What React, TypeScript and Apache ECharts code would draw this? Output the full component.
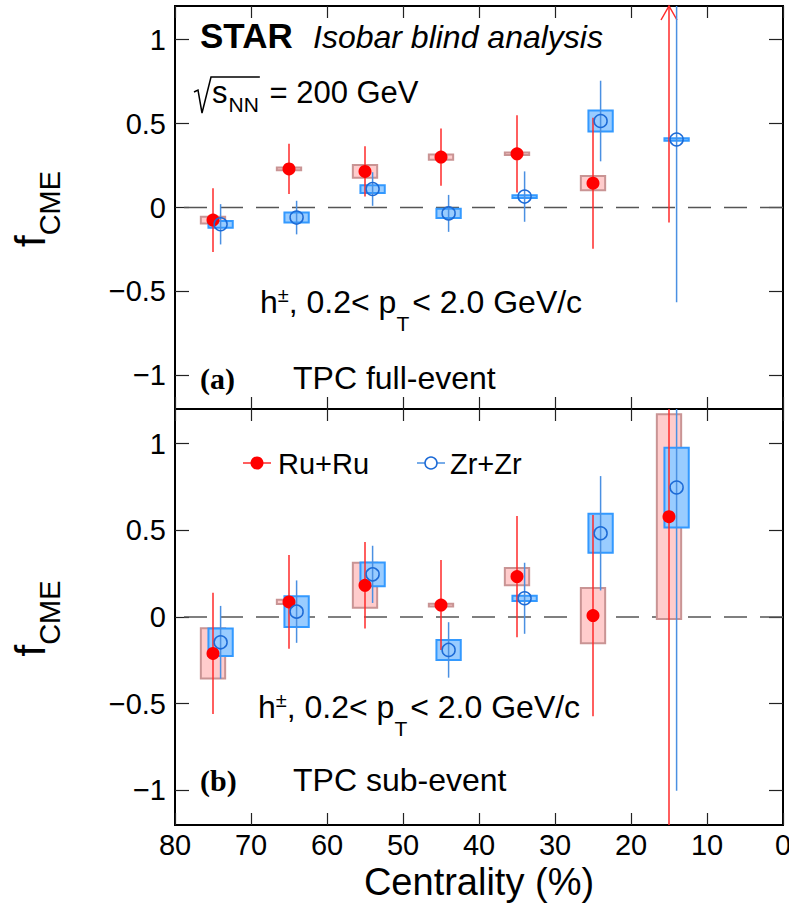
import React, { useEffect, useRef } from "react";
import * as echarts from "echarts";

const SANS = "'Liberation Sans', Arial, Helvetica, sans-serif";
const SERIF = "'Liberation Serif', 'Times New Roman', serif";

// Centrality bin positions (%), Zr points are offset by 1 % for visibility
const ruCent = [75, 65, 55, 45, 35, 25, 15];
const zrCent = [74, 64, 54, 44, 34, 24, 14];

// Panel (a): TPC full-event
const ruA = [-0.075, 0.23, 0.215, 0.3, 0.32, 0.145, 1.6];
const ruAErr = [0.19, 0.15, 0.15, 0.17, 0.23, 0.39, 1.69];
const ruASys = [0.02, 0.008, 0.038, 0.015, 0.008, 0.043, 0.05];
const zrA = [-0.1, -0.06, 0.11, -0.035, 0.065, 0.515, 0.405];
const zrAErr = [0.12, 0.1, 0.1, 0.11, 0.15, 0.24, 0.97];
const zrASys = [0.02, 0.03, 0.023, 0.028, 0.008, 0.063, 0.008];

// Panel (b): TPC sub-event
const ruB = [-0.21, 0.087, 0.183, 0.069, 0.233, 0.008, 0.579];
const ruBErr = [0.35, 0.27, 0.25, 0.26, 0.35, 0.58, 1.9];
const ruBSys = [0.145, 0.012, 0.13, 0.008, 0.05, 0.16, 0.59];
const zrB = [-0.146, 0.031, 0.246, -0.19, 0.108, 0.483, 0.747];
const zrBErr = [0.21, 0.18, 0.165, 0.16, 0.205, 0.33, 1.75];
const zrBSys = [0.079, 0.088, 0.069, 0.058, 0.015, 0.113, 0.23];

const yTickValues = [-1, -0.5, 0, 0.5, 1];
const X_MIN = 0;
const X_MAX = 80;
const Y_MIN = -1.2;
const Y_MAX = 1.2;
const BOX_HALF = 1.6;

const RU_COLOR = "#ff0000";
const RU_ERR = "#ff2a2a";
const RU_BOX_FILL = "#ffcccc";
const RU_BOX_STROKE = "#c99494";
const ZR_COLOR = "#1c6ad6";
const ZR_ERR = "#4a90e2";
const ZR_BOX_FILL = "#99ccff";
const ZR_BOX_STROKE = "#3399ff";

const measureCtx: any =
  typeof document !== "undefined" ? document.createElement("canvas").getContext("2d") : null;
function fontStr(fs: number, opts: any = {}) {
  return `${opts.style || "normal"} ${opts.weight || "normal"} ${fs}px ${opts.family || SANS}`;
}
function tw(text: string, fs: number, opts: any = {}) {
  if (!measureCtx) return text.length * fs * 0.55;
  measureCtx.font = fontStr(fs, opts);
  return measureCtx.measureText(text).width;
}
function txt(text: string, x: number, baseline: number, fs: number, opts: any = {}) {
  const align = opts.align || "left";
  return {
    type: "text",
    x,
    y: baseline - 0.35 * fs,
    z: 100,
    silent: true,
    style: {
      text,
      x: 0,
      y: 0,
      font: fontStr(fs, opts),
      fill: opts.color || "#000",
      textAlign: align,
      textVerticalAlign: "middle",
      align,
      verticalAlign: "middle",
    },
  };
}
function rotTxt(text: string, baselineX: number, startY: number, fs: number) {
  return {
    type: "text",
    x: baselineX - 0.35 * fs,
    y: startY,
    rotation: Math.PI / 2,
    z: 100,
    silent: true,
    style: {
      text,
      x: 0,
      y: 0,
      font: fontStr(fs),
      fill: "#000",
      textAlign: "left",
      textVerticalAlign: "middle",
      align: "left",
      verticalAlign: "middle",
    },
  };
}

function boxRender(fill: string, stroke: string) {
  return (params: any, api: any) => {
    const x = api.value(0);
    const y = api.value(1);
    const s = api.value(2);
    const cs = params.coordSys;
    const a = api.coord([x - BOX_HALF, y + s]);
    const b = api.coord([x + BOX_HALF, y - s]);
    const x0 = Math.min(a[0], b[0]);
    const x1 = Math.max(a[0], b[0]);
    let y0 = Math.min(a[1], b[1]);
    let y1 = Math.max(a[1], b[1]);
    const top = cs.y;
    const bot = cs.y + cs.height;
    if (y1 < top || y0 > bot) return null;
    y0 = Math.max(y0, top);
    y1 = Math.min(y1, bot);
    if (y1 - y0 < 2) {
      const m = (y0 + y1) / 2;
      y0 = m - 1;
      y1 = m + 1;
    }
    return {
      type: "rect",
      shape: { x: x0, y: y0, width: x1 - x0, height: y1 - y0 },
      style: { fill, stroke, lineWidth: 2 },
    };
  };
}

function errRender(stroke: string) {
  return (params: any, api: any) => {
    const x = api.value(0);
    const y = api.value(1);
    const e = api.value(2);
    const cs = params.coordSys;
    const top = cs.y;
    const bot = cs.y + cs.height;
    const p = api.coord([x, y]);
    const lo = api.coord([x, y - e]);
    const hi = api.coord([x, y + e]);
    const yTop = Math.max(Math.min(hi[1], lo[1]), top);
    const yBot = Math.min(Math.max(hi[1], lo[1]), bot);
    const children: any[] = [];
    if (yBot > yTop) {
      children.push({
        type: "line",
        shape: { x1: p[0], y1: yTop, x2: p[0], y2: yBot },
        style: { stroke, lineWidth: 1.5 },
      });
    }
    if (p[1] < top) {
      children.push({
        type: "polyline",
        shape: { points: [[p[0] - 8, top + 14], [p[0], top], [p[0] + 8, top + 14]] },
        style: { stroke, fill: "none", lineWidth: 1.5 },
      });
    }
    return { type: "group", children };
  };
}

function mkX(gridIndex: number, position: string, labels: boolean) {
  return {
    type: "value",
    gridIndex,
    position,
    min: X_MIN,
    max: X_MAX,
    interval: 10,
    inverse: true,
    axisLine: { show: false, onZero: false },
    splitLine: { show: false },
    axisTick: { show: true, inside: true, length: 12, lineStyle: { color: "#222", width: 1.2 } },
    axisLabel: {
      show: labels,
      margin: 5,
      fontSize: 29,
      color: "#000",
      fontFamily: SANS,
      hideOverlap: false,
    },
  };
}

function fmtY(v: number) {
  if (!yTickValues.some((t) => Math.abs(t - v) < 1e-6)) return "";
  if (Math.abs(v) < 1e-9) return "0";
  return (v < 0 ? "\u2212" : "") + String(Math.abs(v));
}

function mkY(gridIndex: number, position: string, labels: boolean) {
  return {
    type: "value",
    gridIndex,
    position,
    min: Y_MIN,
    max: Y_MAX,
    splitNumber: 5,
    axisLine: { show: false, onZero: false },
    splitLine: { show: false },
    axisTick: {
      show: true,
      inside: true,
      length: 14,
      customValues: yTickValues,
      lineStyle: { color: "#222", width: 1.2 },
    },
    axisLabel: {
      show: labels,
      customValues: yTickValues,
      margin: 9,
      fontSize: 29,
      color: "#000",
      fontFamily: SANS,
      formatter: fmtY,
    },
  };
}

function panelSeries(
  p: number,
  ru: number[],
  ruErr: number[],
  ruSys: number[],
  zr: number[],
  zrErr: number[],
  zrSys: number[]
) {
  const common = { xAxisIndex: p * 2, yAxisIndex: p * 2 };
  return [
    {
      type: "line",
      ...common,
      name: "zero",
      data: [
        [X_MIN, 0],
        [X_MAX, 0],
      ],
      symbol: "none",
      silent: true,
      z: 1,
      lineStyle: { color: "#555", width: 1.5, type: [23, 13] },
    },
    {
      type: "custom",
      ...common,
      name: "Ru+Ru syst",
      z: 2,
      encode: { x: 0, y: 1 },
      renderItem: boxRender(RU_BOX_FILL, RU_BOX_STROKE),
      data: ruCent.map((c, i) => [c, ru[i], ruSys[i]]),
    },
    {
      type: "custom",
      ...common,
      name: "Zr+Zr syst",
      z: 3,
      encode: { x: 0, y: 1 },
      renderItem: boxRender(ZR_BOX_FILL, ZR_BOX_STROKE),
      data: zrCent.map((c, i) => [c, zr[i], zrSys[i]]),
    },
    {
      type: "custom",
      ...common,
      name: "Ru+Ru stat",
      z: 4,
      encode: { x: 0, y: 1 },
      renderItem: errRender(RU_ERR),
      data: ruCent.map((c, i) => [c, ru[i], ruErr[i]]),
    },
    {
      type: "custom",
      ...common,
      name: "Zr+Zr stat",
      z: 4,
      encode: { x: 0, y: 1 },
      renderItem: errRender(ZR_ERR),
      data: zrCent.map((c, i) => [c, zr[i], zrErr[i]]),
    },
    {
      type: "scatter",
      ...common,
      name: "Ru+Ru",
      z: 5,
      clip: true,
      symbol: "circle",
      symbolSize: 13,
      itemStyle: { color: RU_COLOR, opacity: 1 },
      data: ruCent.map((c, i) => [c, ru[i]]),
    },
    {
      type: "scatter",
      ...common,
      name: "Zr+Zr",
      z: 5,
      clip: true,
      symbol: "circle",
      symbolSize: 13,
      itemStyle: { color: "rgba(0,0,0,0)", borderColor: ZR_COLOR, borderWidth: 1.5, opacity: 1 },
      data: zrCent.map((c, i) => [c, zr[i]]),
    },
  ];
}

function buildGraphic() {
  const els: any[] = [];
  // STAR header
  els.push(txt("STAR", 200, 48, 35, { weight: "bold" }));
  els.push(txt("Isobar blind analysis", 313, 48, 32, { style: "italic" }));
  // sqrt(s_NN) = 200 GeV
  const sx = 212;
  const sW = tw("s", 31);
  const nnW = tw("NN", 21);
  const nnEnd = sx + sW + 1 + nnW;
  els.push({
    type: "polyline",
    z: 100,
    silent: true,
    shape: {
      points: [
        [194, 92],
        [198, 90],
        [202, 113],
        [211, 77],
        [nnEnd + 1, 77],
      ],
    },
    style: { stroke: "#000", fill: "none", lineWidth: 1.5 },
  });
  els.push(txt("s", sx, 103, 31));
  els.push(txt("NN", sx + sW + 1, 112, 21));
  els.push(txt(" = 200 GeV", nnEnd + 2, 103, 31));

  // h± line, both panels
  const hLine = (x0: number, base: number) => {
    const fs = 32;
    let x = x0;
    els.push(txt("h", x, base, fs));
    x += tw("h", fs);
    els.push(txt("\u00b1", x, base - 11, 20));
    x += tw("\u00b1", 20);
    const mid = ", 0.2< p";
    els.push(txt(mid, x, base, fs));
    x += tw(mid, fs);
    els.push(txt("T", x, base + 18, 21));
    x += tw("T", 21) + 3;
    els.push(txt("< 2.0 GeV/c", x, base, fs));
  };
  hLine(260, 313);
  hLine(258, 718);

  // panel labels
  els.push(txt("(a)", 200, 389, 30, { weight: "bold", family: SERIF }));
  els.push(txt("TPC full-event", 293, 389, 32));
  els.push(txt("(b)", 200, 791, 30, { weight: "bold", family: SERIF }));
  els.push(txt("TPC sub-event", 293, 791, 32));

  // legend
  els.push({
    type: "line",
    z: 100,
    silent: true,
    shape: { x1: 243, y1: 463, x2: 271, y2: 463 },
    style: { stroke: RU_ERR, lineWidth: 1.5 },
  });
  els.push({
    type: "circle",
    z: 101,
    silent: true,
    shape: { cx: 257, cy: 463, r: 6.5 },
    style: { fill: RU_COLOR },
  });
  els.push(txt("Ru+Ru", 278, 474, 29));
  els.push({
    type: "line",
    z: 100,
    silent: true,
    shape: { x1: 417, y1: 463, x2: 445, y2: 463 },
    style: { stroke: ZR_ERR, lineWidth: 1.5 },
  });
  els.push({
    type: "circle",
    z: 101,
    silent: true,
    shape: { cx: 431, cy: 463, r: 6 },
    style: { fill: "#fff", stroke: ZR_COLOR, lineWidth: 1.5 },
  });
  els.push(txt("Zr+Zr", 450, 474, 29));

  // axis titles
  els.push(txt("Centrality (%)", 479, 895, 38, { align: "center" }));
  const fW = tw("f", 42);
  [247, 656.5].forEach((y0) => {
    els.push(rotTxt("f", 45, y0, 42));
    els.push(rotTxt("CME", 60, y0 - fW, 29));
  });
  return els;
}

function buildOption() {
  const gridStyle = {
    show: true,
    borderColor: "#000",
    borderWidth: 2,
    backgroundColor: "transparent",
    containLabel: false,
    outerBoundsMode: "none",
  };
  return {
    animation: false,
    backgroundColor: "#fff",
    grid: [
      { left: 175, top: 6, width: 608, height: 403, ...gridStyle },
      { left: 175, top: 409, width: 608, height: 416, ...gridStyle },
    ],
    xAxis: [mkX(0, "bottom", false), mkX(0, "top", false), mkX(1, "bottom", true), mkX(1, "top", false)],
    yAxis: [mkY(0, "left", true), mkY(0, "right", false), mkY(1, "left", true), mkY(1, "right", false)],
    series: [
      ...panelSeries(0, ruA, ruAErr, ruASys, zrA, zrAErr, zrASys),
      ...panelSeries(1, ruB, ruBErr, ruBSys, zrB, zrBErr, zrBSys),
    ],
    graphic: buildGraphic(),
  };
}

export default function App() {
  const ref = useRef<HTMLDivElement>(null);
  useEffect(() => {
    document.body.style.margin = "0";
    const chart = echarts.init(ref.current as HTMLDivElement, null, { renderer: "svg" });
    chart.setOption(buildOption() as any);
    return () => chart.dispose();
  }, []);
  return <div ref={ref} style={{ position: "absolute", left: 0, top: 0, width: 789, height: 903 }} />;
}
